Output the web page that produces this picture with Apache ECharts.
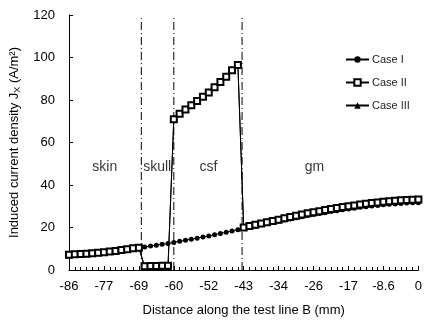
<!DOCTYPE html>
<html>
<head>
<meta charset="utf-8">
<script src="https://cdn.jsdelivr.net/npm/echarts@6/dist/echarts.min.js"></script>
<style>html,body{margin:0;padding:0;background:#fff}#c{width:425px;height:329px}</style>
</head>
<body>
<div id="c"></div>
<script>
// distance along the test line B (mm)
var xValues = [-86, -84.57, -83.13, -81.7, -80.27, -78.83, -77.4, -75.97, -74.53, -73.1, -71.67, -70.23, -68.8,
  -67.37, -65.93, -64.5, -63.07, -61.63, -60.2, -58.77, -57.33, -55.9, -54.47, -53.03, -51.6, -50.17, -48.73,
  -47.3, -45.87, -44.43, -43, -41.57, -40.13, -38.7, -37.27, -35.83, -34.4, -32.97, -31.53, -30.1, -28.67,
  -27.23, -25.8, -24.37, -22.93, -21.5, -20.07, -18.63, -17.2, -15.77, -14.33, -12.9, -11.47, -10.03, -8.6,
  -7.17, -5.73, -4.3, -2.87, -1.43, 0];
var caseI = [7.0, 7.1, 7.3, 7.4, 7.6, 7.8, 8.0, 8.3, 8.6, 9.0, 9.4, 9.9, 10.4,
  10.8, 11.3, 11.7, 12.1, 12.5, 13.0, 13.5, 14.0, 14.5, 15.0, 15.5, 16.0, 16.6, 17.2,
  17.8, 18.4, 18.9, 19.5, 20.1, 20.7, 21.3, 21.9, 22.5, 23.0, 23.5, 24.0, 24.6, 25.1,
  25.6, 26.1, 26.6, 27.0, 27.5, 27.9, 28.3, 28.7, 29.1, 29.5, 29.8, 30.1, 30.4, 30.7,
  30.9, 31.1, 31.3, 31.5, 31.6, 31.7];
var caseII = [7.2, 7.4, 7.5, 7.7, 7.9, 8.1, 8.4, 8.7, 9.0, 9.4, 9.8, 10.2, 10.5,
  1.8, 1.9, 1.9, 2.0, 2.0,
  71.0, 73.5, 75.5, 77.5, 79.5, 81.5, 83.5, 86.0, 88.5, 91.0, 94.0, 96.5,
  20.0, 20.7, 21.3, 21.9, 22.5, 23.1, 23.7, 24.3, 24.9, 25.5, 26.1, 26.7, 27.2, 27.7, 28.2, 28.7,
  29.2, 29.6, 30.0, 30.4, 30.8, 31.2, 31.5, 31.8, 32.1, 32.4, 32.6, 32.8, 33.0, 33.1, 33.2];
var caseIII = [7.0, 7.2, 7.4, 7.6, 7.8, 8.0, 8.3, 8.6, 8.9, 9.3, 9.7, 10.1, 10.4,
  1.2, 1.3, 1.3, 1.4, 1.4,
  71.5, 74.0, 76.0, 78.0, 80.0, 82.0, 84.0, 86.5, 89.0, 91.5, 94.5, 97.0,
  19.8, 20.5, 21.1, 21.7, 22.3, 22.9, 23.5, 24.1, 24.7, 25.3, 25.9, 26.5, 27.0, 27.5, 28.0, 28.5,
  29.0, 29.4, 29.8, 30.2, 30.6, 31.0, 31.3, 31.6, 31.9, 32.2, 32.4, 32.6, 32.8, 32.9, 33.0];
var xTickLabels = ['-86', '-77', '-69', '-60', '-52', '-43', '-34', '-26', '-17', '-8.6', '0'];
var boundaries = [-68.2, -60.2, -43.4];
var tissueNames = ['skin', 'skull', 'csf', 'gm'];
var tissueX = [-77.2, -64.3, -51.7, -25.6];
var tissueY = [48.5, 48.5, 48.5, 48.5];
var seriesNames = ['Case I', 'Case II', 'Case III'];

function pairs(ys) { return xValues.map(function (x, i) { return [x, ys[i]]; }); }

var font = 'Liberation Sans, Arial, sans-serif';
var Y_MIN = 0, Y_MAX = 120;

var boundarySeries = boundaries.map(function (b, i) {
  return {
    name: 'boundary' + i, type: 'line', silent: true, z: 1,
    data: [[b, Y_MIN], [b, Y_MAX]],
    symbol: 'none',
    lineStyle: { color: '#000', width: 1, type: [8, 3, 1, 3] }
  };
});

var chart = echarts.init(document.getElementById('c'), null, { renderer: 'canvas' });
chart.setOption({
  animation: false,
  backgroundColor: '#fff',
  grid: { left: 69, right: 2, top: 15, bottom: 59, containLabel: false },
  legend: {
    data: seriesNames,
    orient: 'vertical',
    left: 340, top: 49,
    itemWidth: 23, itemHeight: 8, itemGap: 12,
    textStyle: { fontFamily: font, fontSize: 11, color: '#222', padding: [0, 0, 0, -2] }
  },
  xAxis: {
    type: 'value', min: -86, max: 0, interval: 8.6,
    axisLine: { onZero: false, lineStyle: { color: '#000', width: 1 } },
    axisTick: { inside: true, length: 4, lineStyle: { color: '#000' } },
    minorTick: { show: true, splitNumber: 6, length: 3, lineStyle: { color: '#000' } },
    splitLine: { show: false },
    axisLabel: {
      margin: 10, color: '#000', fontFamily: font, fontSize: 13,
      formatter: function (v) { return xTickLabels[Math.round((v + 86) / 8.6)]; }
    },
    name: 'Distance along the test line B (mm)',
    nameLocation: 'middle', nameGap: 34,
    nameTextStyle: { color: '#000', fontFamily: font, fontSize: 13 }
  },
  yAxis: {
    type: 'value', min: Y_MIN, max: Y_MAX, interval: 20,
    axisLine: { show: true, onZero: false, lineStyle: { color: '#000', width: 1 } },
    axisTick: { show: true, inside: true, length: 4, lineStyle: { color: '#000' } },
    splitLine: { show: false },
    axisLabel: { margin: 14, color: '#000', fontFamily: font, fontSize: 13 },
    name: 'Induced current density J{sub|X} (A/m²)',
    nameLocation: 'middle', nameGap: 41,
    nameTextStyle: {
      color: '#000', fontFamily: font, fontSize: 13,
      rich: { sub: { fontSize: 9, fontFamily: font, color: '#000', verticalAlign: 'bottom', padding: [6, 0, 0, 0] } }
    }
  },
  series: boundarySeries.concat([
    {
      name: 'tissues', type: 'scatter', silent: true, z: 2,
      data: tissueNames.map(function (n, i) { return { name: n, value: [tissueX[i], tissueY[i]] }; }),
      symbolSize: 1, itemStyle: { color: 'rgba(0,0,0,0)' },
      label: { show: true, position: 'inside', color: '#000', fontFamily: font, fontSize: 14,
        formatter: function (p) { return p.name; } }
    },
    {
      name: 'Case I', type: 'line', data: pairs(caseI), z: 3,
      symbol: 'circle', symbolSize: 5, showAllSymbol: true,
      lineStyle: { color: '#000', width: 1 }, itemStyle: { color: '#000' }
    },
    {
      name: 'Case II', type: 'line', data: pairs(caseII), z: 5,
      symbol: 'emptyRect', symbolSize: 6, showAllSymbol: true,
      lineStyle: { color: '#000', width: 1 }, itemStyle: { color: '#000', borderWidth: 1.2 }
    },
    {
      name: 'Case III', type: 'line', data: pairs(caseIII), z: 4,
      symbol: 'triangle', symbolSize: 6, showAllSymbol: true,
      lineStyle: { color: '#000', width: 1 }, itemStyle: { color: '#000' }
    }
  ])
});
</script>
</body>
</html>
